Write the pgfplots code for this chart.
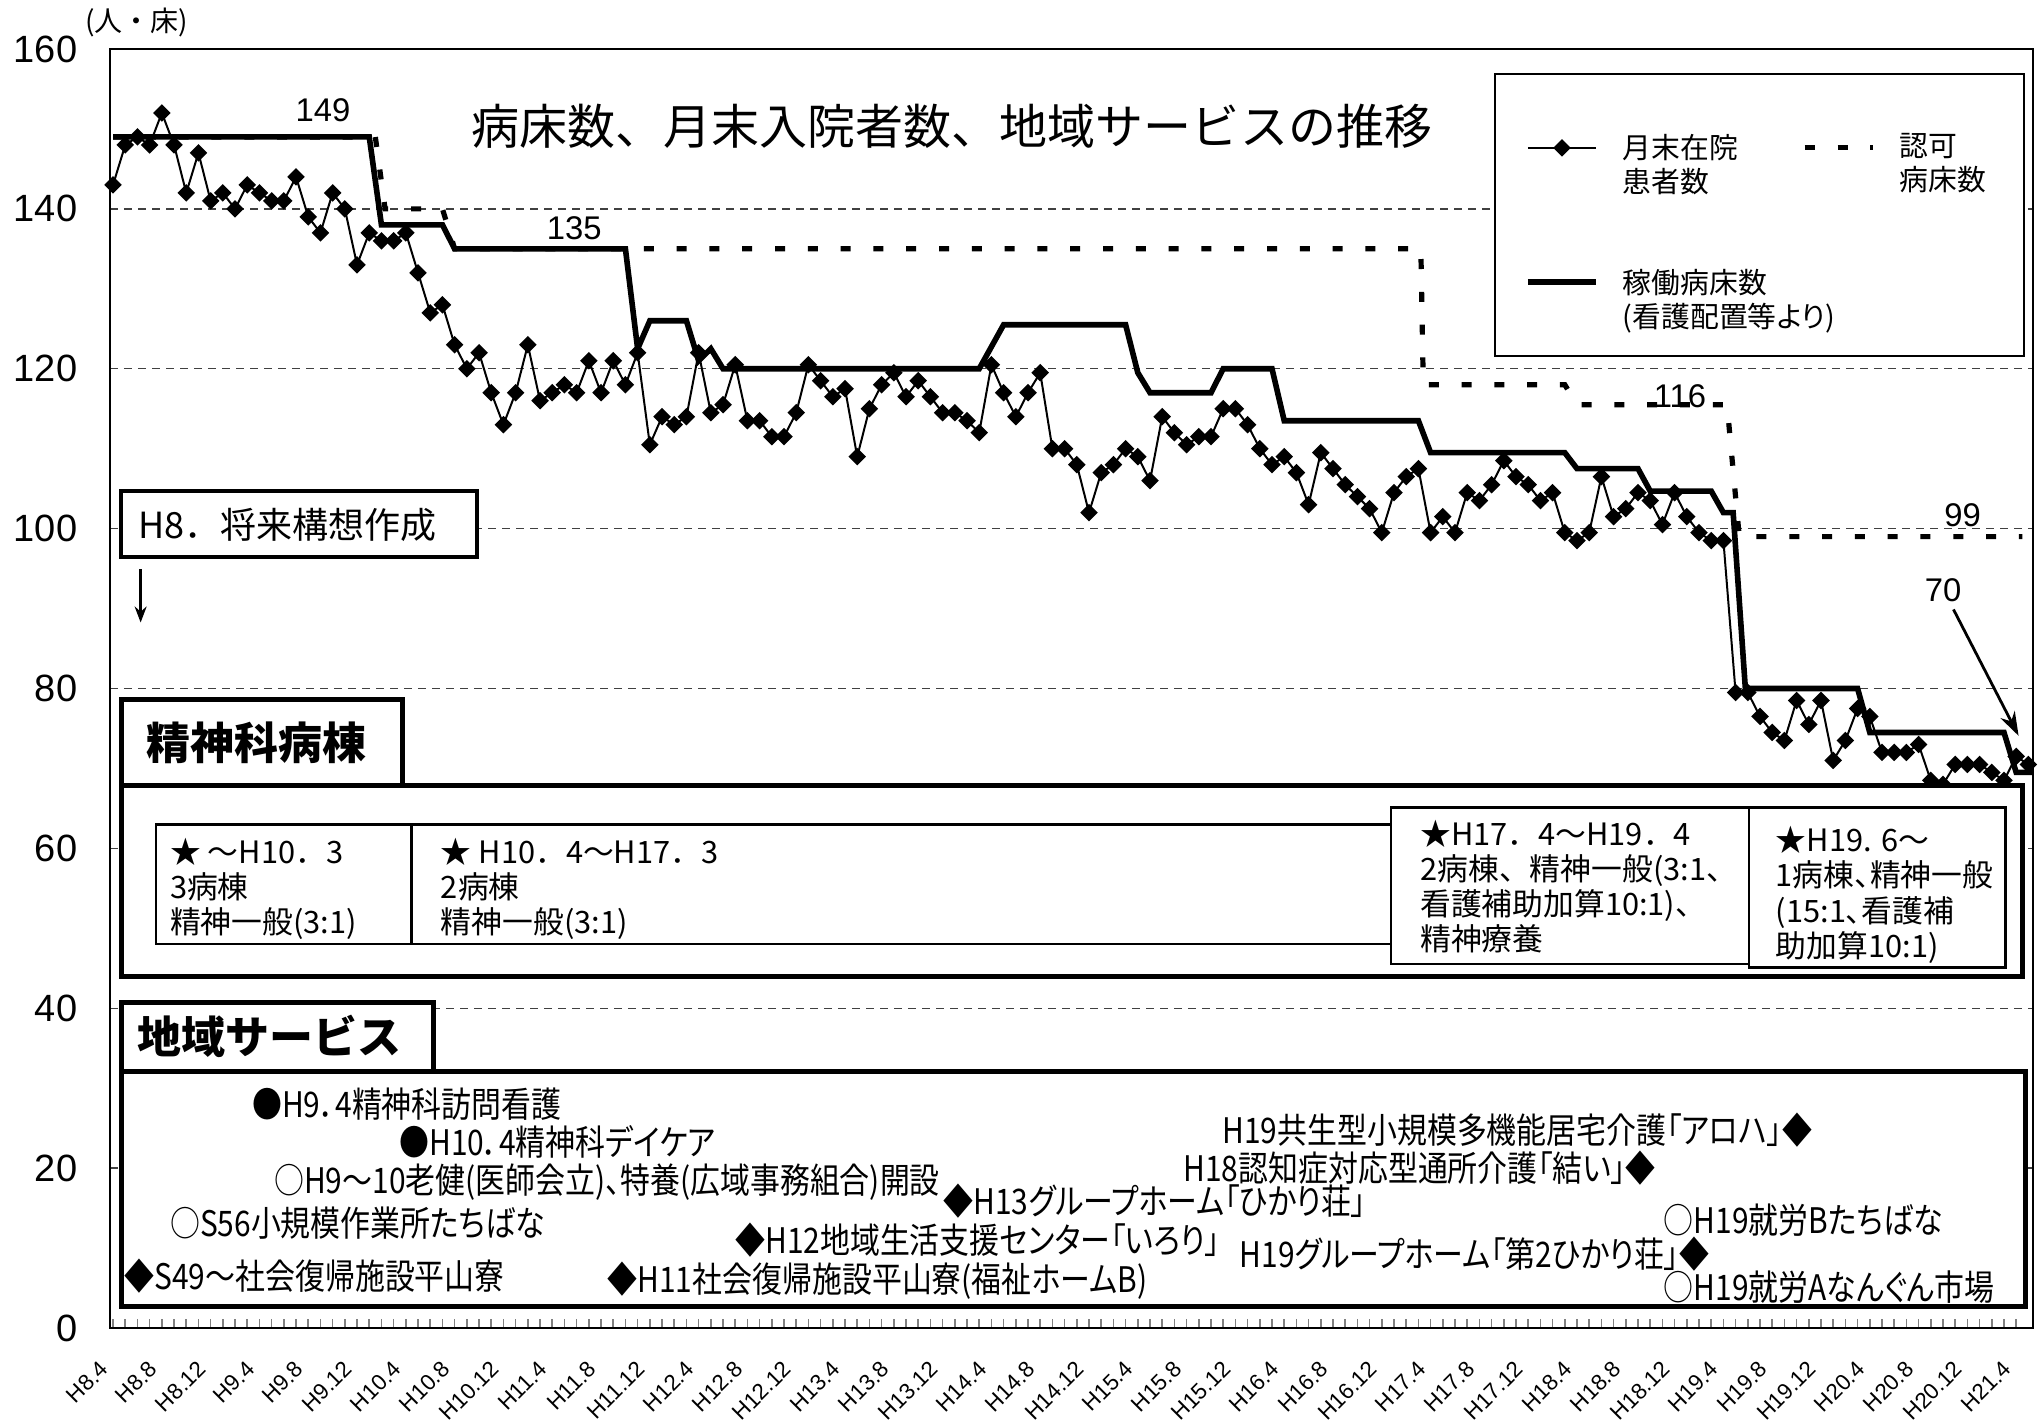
\documentclass[border=0pt]{standalone}
\usepackage{pgfplots}
\pgfplotsset{compat=1.18}
\usepackage{fontspec}
\setmainfont{Noto Sans CJK JP}
\newfontfamily\lib{Liberation Sans}
\newfontfamily\pal[RawFeature=+palt]{Noto Sans CJK JP}
\newfontfamily\cond[FakeStretch=0.85,RawFeature=+palt]{Noto Sans CJK JP}
\usetikzlibrary{arrows.meta}
\begin{document}
\begin{tikzpicture}
\begin{axis}[
 at={(0pt,0pt)}, anchor=south west,
 scale only axis, width=480.75pt, height=319.75pt,
 xmin=-0.25, xmax=157.38, ymin=0, ymax=160,
 xtick={0,4,...,156},
 xticklabels={H8.4,H8.8,H8.12,H9.4,H9.8,H9.12,H10.4,H10.8,H10.12,H11.4,H11.8,H11.12,H12.4,H12.8,H12.12,H13.4,H13.8,H13.12,H14.4,H14.8,H14.12,H15.4,H15.8,H15.12,H16.4,H16.8,H16.12,H17.4,H17.8,H17.12,H18.4,H18.8,H18.12,H19.4,H19.8,H19.12,H20.4,H20.8,H20.12,H21.4},
 minor x tick num=3,
 ytick={0,20,...,160},
 tick pos=left, tick align=inside,
 major tick length=2.2pt, minor tick length=2.2pt,
 ytick style={draw=none},
 xtick style={line width=0.4pt},
 ymajorgrids, grid style={black!75, line width=0.35pt, dash pattern=on 2pt off 1.5pt},
 axis line style={line width=0.6pt},
 xticklabel style={font=\lib\fontsize{5.6}{6.5}\selectfont, rotate=45, anchor=east, inner sep=0pt, yshift=-5pt, xshift=-8pt},
 yticklabel style={font=\lib\fontsize{9.5}{10}\selectfont, inner sep=0pt, xshift=-8pt},
 /pgf/number format/assume math mode=true,
 legend columns=2, legend cell align=left,
 legend style={at={(axis cs:113.2,157.05)}, anchor=north west, draw=black, line width=0.5pt, fill=white,
   font=\pal\fontsize{7.2}{8.5}\selectfont, inner xsep=7.5pt, inner ysep=3.8pt, row sep=4pt,
   cells={align=left},
   /tikz/every odd column/.append style={column sep=4pt},
   /tikz/every even column/.append style={column sep=14pt}},
]
\addplot[black, line width=0.5pt, mark=square*, mark size=1.3pt, mark options={rotate=45, solid}] table {
m v
0 143
1 148
2 149
3 148
4 152
5 148
6 142
7 147
8 141
9 142
10 140
11 143
12 142
13 141
14 141
15 144
16 139
17 137
18 142
19 140
20 133
21 137
22 136
23 136
24 137
25 132
26 127
27 128
28 123
29 120
30 122
31 117
32 113
33 117
34 123
35 116
36 117
37 118
38 117
39 121
40 117
41 121
42 118
43 122
44 110.5
45 114
46 113
47 114
48 122
49 114.5
50 115.5
51 120.5
52 113.5
53 113.5
54 111.5
55 111.5
56 114.5
57 120.5
58 118.5
59 116.5
60 117.5
61 109
62 115
63 118
64 119.5
65 116.5
66 118.5
67 116.5
68 114.5
69 114.5
70 113.5
71 112
72 120.5
73 117
74 114
75 117
76 119.5
77 110
78 110
79 108
80 102
81 107
82 108
83 110
84 109
85 106
86 114
87 112
88 110.5
89 111.5
90 111.5
91 115
92 115
93 113
94 110
95 108
96 109
97 107
98 103
99 109.5
100 107.5
101 105.5
102 104
103 102.5
104 99.5
105 104.5
106 106.5
107 107.5
108 99.5
109 101.5
110 99.5
111 104.5
112 103.5
113 105.5
114 108.5
115 106.5
116 105.5
117 103.5
118 104.5
119 99.5
120 98.5
121 99.5
122 106.5
123 101.5
124 102.5
125 104.5
126 103.5
127 100.5
128 104.5
129 101.5
130 99.5
131 98.5
132 98.5
133 79.5
134 79.5
135 76.5
136 74.5
137 73.5
138 78.5
139 75.5
140 78.5
141 71
142 73.5
143 77.5
144 76.5
145 72
146 72
147 72
148 73
149 68.5
150 68
151 70.5
152 70.5
153 70.5
154 69.5
155 68.5
156 71.5
157 70.5
};
\addlegendentry{\strut\\月末在院\\患者数}
\addplot[black, line width=1.3pt, dash pattern=on 2.5pt off 5.7pt] coordinates {
(0,149) (21.5,149) (22.3,140) (27,140) (28,135) (107.2,135) (107.4,118) (119,118) (120,115.5) (132.3,115.5) (133.3,99) (156.5,99)
};
\addlegendentry{\strut\\認可\\病床数}
\addplot[black, line width=1.4pt] coordinates {
(0,149) (21,149) (22,138) (27,138) (28,135) (42,135) (43,122.5) (44,126) (47,126) (48,121) (49,122.5) (50,120) (71,120) (73,125.5) (83,125.5) (84,119.5) (85,117) (90,117) (91,120) (95,120) (96,113.5) (107,113.5) (108,109.5) (119,109.5) (120,107.5) (125,107.5) (126,104.7) (131,104.7) (132,102) (132.8,102) (133.8,80) (143,80) (144,74.5) (155,74.5) (156,69.5) (157.3,69.5)
};
\addlegendentry{\strut\\\makebox[0pt][l]{稼働病床数}\\\makebox[0pt][l]{(看護配置等より)}}
\end{axis}
\begin{scope}[shift={(-27.5pt,332pt)}, x=0.32558pt, y=-0.32558pt]
 \node[font=\fontsize{12}{14}\selectfont] at (731,97) {病床数、月末入院者数、地域サービスの推移};
 \node[anchor=west, font=\fontsize{7}{8}\selectfont, inner sep=0pt] at (65,17) {(人・床)};
 \node[font=\lib\fontsize{8.2}{9}\selectfont] at (248,85) {149};
 \node[font=\lib\fontsize{8.2}{9}\selectfont] at (441,175) {135};
 \node[font=\lib\fontsize{8.2}{9}\selectfont] at (1290,304) {116};
 \node[font=\lib\fontsize{8.2}{9}\selectfont] at (1507,396) {99};
 \node[font=\lib\fontsize{8.2}{9}\selectfont] at (1492,453) {70};
 \draw[-{Stealth[length=6pt,width=4pt]}, line width=0.7pt] (1500,468) -- (1550,565);
 % H8 box
 \draw[line width=1pt, fill=white] (93,377) rectangle (366,428);
 \node[font=\fontsize{9}{10}\selectfont] at (221,403) {H8．将来構想作成};
 \draw[-{Stealth[length=4pt,width=3pt]}, line width=0.6pt] (108,437) -- (108,478);
 % psychiatric wards
 \draw[line width=1.2pt, fill=white] (93,603) rectangle (1553,750);
 \draw[line width=1.2pt, fill=white] (93,537) rectangle (309,603);
 \node[font=\bfseries\fontsize{11}{12}\selectfont] at (197,570) {精神科病棟};
 \draw[line width=0.6pt] (120,633) rectangle (316,725);
 \draw[line width=0.6pt] (316,633) rectangle (1068,725);
 \draw[line width=0.6pt, fill=white] (1068,620) rectangle (1343,740);
 \draw[line width=0.6pt, fill=white] (1343,620) rectangle (1540,743);
 \begin{scope}[every node/.style={anchor=north west, align=left, inner sep=0pt, font=\fontsize{7.7}{8.8}\selectfont}]
  \node at (130,643) {★ ～H10．3\\3病棟\\精神一般(3:1)};
  \node at (338,643) {★ H10．4～H17．3\\2病棟\\精神一般(3:1)};
  \node at (1090,629) {★H17．4～H19．4\\2病棟、精神一般(3:1、\\看護補助加算10:1)、\\精神療養};
  \node[font=\pal\fontsize{7.7}{8.8}\selectfont] at (1363,634) {★H19. 6～\\1病棟、精神一般\\(15:1、看護補\\助加算10:1)};
 \end{scope}
 % community services
 \draw[line width=1.2pt, fill=white] (93,823) rectangle (1555,1003);
 \draw[line width=1.2pt, fill=white] (93,770) rectangle (333,823);
 \node[font=\bfseries\fontsize{11}{12}\selectfont] at (207,796) {地域サービス};
 \begin{scope}[every node/.style={inner sep=0pt, font=\cond\fontsize{8.8}{10}\selectfont}]
  \node[anchor=west] at (193,848) {●H9．4精神科訪問看護};
  \node[anchor=west] at (306,877) {●H10．4精神科デイケア};
  \node[anchor=west] at (210,908) {○H9～10老健(医師会立)、特養(広域事務組合)開設};
  \node[anchor=west] at (130,939) {○S56小規模作業所たちばな};
  \node[anchor=west] at (95,980) {◆S49～社会復帰施設平山寮};
  \node[anchor=west] at (466,983) {◆H11社会復帰施設平山寮(福祉ホームB)};
  \node[anchor=west] at (564,952) {◆H12地域生活支援センター「いろり」};
  \node[anchor=west] at (724,922) {◆H13グループホーム「ひかり荘」};
  \node[anchor=east] at (1392,868) {H19共生型小規模多機能居宅介護「アロハ」◆};
  \node[anchor=east] at (1272,897) {H18認知症対応型通所介護「結い」◆};
  \node[anchor=east] at (1313,963) {H19グループホーム「第2ひかり荘」◆};
  \node[anchor=west] at (1277,937) {○H19就労Bたちばな};
  \node[anchor=west] at (1277,988) {○H19就労Aなんぐん市場};
 \end{scope}
\end{scope}
\pgfresetboundingbox
\useasboundingbox (-27.5pt,-24pt) rectangle (483pt,332pt);
\end{tikzpicture}
\end{document}
